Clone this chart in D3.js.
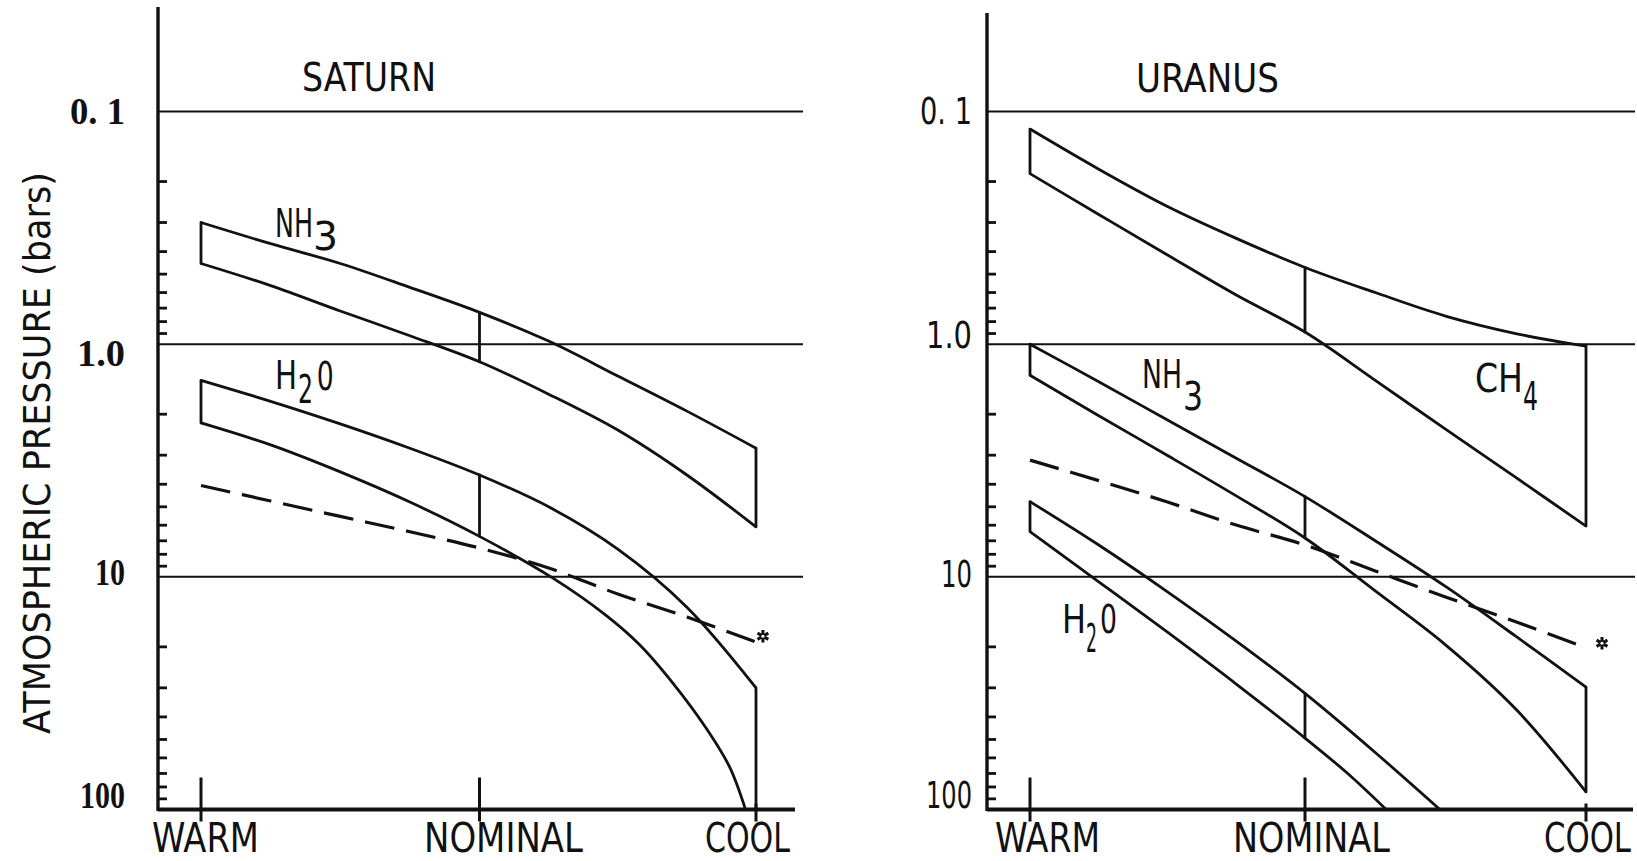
<!DOCTYPE html>
<html>
<head>
<meta charset="utf-8">
<script src="https://cdn.jsdelivr.net/npm/d3@7"></script>
<style>
  html, body { margin: 0; padding: 0; background: #fff; }
  svg { display: block; }
</style>
</head>
<body>
<svg id="chart" width="1637" height="861"></svg>
<script>
// Cloud-base pressure levels (bars) for three model atmospheres.
// Model axis: 0 = warm, 1 = nominal, 2 = cool.
const modelCategories = ["WARM", "NOMINAL", "COOL"];
const pressureTicks = [0.1, 1, 10, 100];
const saturnTickLabels = ["0. 1", "1.0", "10", "100"];
const uranusTickLabels = ["0. 1", "1.0", "10", "100"];

// Saturn
const saturnT = [0, 0.25, 0.5, 0.75, 1, 1.25, 1.5, 1.75, 2];
const saturnNH3Upper = [0.30, 0.37, 0.45, 0.57, 0.73, 0.97, 1.37, 1.94, 2.8];
const saturnNH3Lower = [0.45, 0.56, 0.72, 0.92, 1.19, 1.64, 2.34, 3.65, 6.1];
const saturnH2OUpper = [1.43, 1.76, 2.2, 2.8, 3.65, 5.0, 7.6, 13.5, 30];
const saturnH2OLowerT = [0, 0.25, 0.5, 0.75, 1, 1.267, 1.46, 1.58, 1.70, 1.82, 1.904, 1.962];
const saturnH2OLower = [2.18, 2.71, 3.54, 4.77, 6.7, 10.15, 14.71, 19.63, 28.69, 44.77, 65.46, 100];
const saturnAdiabat = [4.05, 4.72, 5.5, 6.4, 7.52, 9.16, 11.85, 14.88, 19.06];
const saturnMarker = [2.025, 18];

// Uranus
const uranusT = [0, 0.25, 0.5, 0.75, 1, 1.25, 1.5, 1.75, 2];
const uranusCH4Upper = [0.119, 0.177, 0.256, 0.351, 0.468, 0.600, 0.757, 0.90, 1.02];
const uranusCH4Lower = [0.185, 0.277, 0.414, 0.615, 0.887, 1.43, 2.32, 3.74, 6.05];
const uranusNH3Upper = [1.0, 1.45, 2.12, 3.09, 4.52, 7.0, 11.0, 18.0, 29.8];
const uranusNH3Lower = [1.36, 2.03, 3.01, 4.49, 6.81, 11.5, 19.6, 37.0, 84];
const uranusH2OUpperT = [0, 0.25, 0.5, 0.75, 1, 1.25, 1.48];
const uranusH2OUpper = [4.75, 7.3, 11.6, 18.9, 31.7, 56.9, 100];
const uranusH2OLowerT = [0, 0.25, 0.5, 0.75, 1, 1.15, 1.289];
const uranusH2OLower = [6.39, 10.5, 17.3, 28.9, 49.3, 69.7, 100];
const uranusAdiabat = [3.15, 3.86, 4.77, 5.99, 7.3, 9.44, 12.2, 15.6, 20.2];
const uranusMarker = [2.057, 19.3];

const zip = (ts, ps) => ts.map((t, i) => ({ t, p: ps[i] }));

const letterFont = "'Liberation Sans Narrow', 'DejaVu Sans Condensed', 'Liberation Sans', sans-serif";

const panels = [
  {
    title: "SATURN",
    titleAt: [0.3627, 0.0816, 134],
    tickLabels: saturnTickLabels,
    tickFont: "'Liberation Serif', 'DejaVu Serif', serif", tickWeight: "bold",
    tickLabelRight: 125, tickLabelWidths: [55, 48, 30, 45], tickLabelDy: [12, 22, 8, -2],
    axisX: 158, axisTop: 7, gridRight: 803, baseRight: 795,
    xRange: [201, 479.5, 756],
    catLabelDx: [-49, -55.5, -51], catLabelW: [107, 159, 85],
    bands: [
      { upper: zip(saturnT, saturnNH3Upper), lower: zip(saturnT, saturnNH3Lower) },
      { upper: zip(saturnT, saturnH2OUpper), lower: zip(saturnH2OLowerT, saturnH2OLower) }
    ],
    adiabat: zip(saturnT, saturnAdiabat),
    marker: saturnMarker,
    labels: [
      [["NH", 0.2657, 0.3463, 38], ["3", 0.4022, 0.3938, 25]],
      [["H", 0.2657, 1.558, 22], ["2", 0.3483, 1.790, 15], ["0", 0.4154, 1.574, 17]]
    ]
  },
  {
    title: "URANUS",
    titleAt: [0.3855, 0.0824, 143],
    tickLabels: uranusTickLabels,
    tickFont: letterFont, tickWeight: "normal",
    tickLabelRight: 972, tickLabelWidths: [52, 46, 31, 46], tickLabelDy: [12, 4, 10, -2],
    axisX: 987, axisTop: 13, gridRight: 1635, baseRight: 1633,
    xRange: [1030, 1305, 1586],
    catLabelDx: [-35, -72, -42], catLabelW: [105, 157, 87],
    bands: [
      { upper: zip(uranusT, uranusCH4Upper), lower: zip(uranusT, uranusCH4Lower) },
      { upper: zip(uranusT, uranusNH3Upper), lower: zip(uranusT, uranusNH3Lower) },
      { upper: zip(uranusH2OUpperT, uranusH2OUpper), lower: zip(uranusH2OLowerT, uranusH2OLower) }
    ],
    adiabat: zip(uranusT, uranusAdiabat),
    marker: uranusMarker,
    labels: [
      [["NH", 0.4073, 1.548, 40], ["3", 0.5564, 1.919, 20]],
      [["CH", 1.605, 1.606, 48], ["4", 1.776, 1.919, 15]],
      [["H", 0.1164, 17.43, 24], ["2", 0.2036, 21.04, 11], ["0", 0.2545, 17.43, 17]]
    ]
  }
];

const svg = d3.select("#chart");
const ink = "#111";

const y = d3.scaleLog().domain([0.1, 100]).range([111.5, 809.5]);

// Draw a string starting at x on baseline yBase, squeezed horizontally to the given width.
function fitText(g, str, x, yBase, width, size, family, weight) {
  const t = g.append("text")
    .attr("font-family", family).attr("font-size", size)
    .attr("font-weight", weight || "normal")
    .attr("fill", ink)
    .text(str);
  const natural = t.node().getComputedTextLength() || width;
  t.attr("transform", `translate(${x},${yBase}) scale(${width / natural},1)`);
  return t;
}

panels.forEach(P => {
  const g = svg.append("g");
  const x = d3.scaleLinear().domain([0, 1, 2]).range(P.xRange);
  const pMax = y.domain()[1];

  // reference lines at each labelled pressure
  pressureTicks.slice(0, 3).forEach(v => {
    g.append("line")
      .attr("x1", P.axisX).attr("x2", P.gridRight)
      .attr("y1", y(v)).attr("y2", y(v))
      .attr("stroke", ink).attr("stroke-width", 2);
  });

  // minor log ticks, drawn inward
  const minor = [];
  [0.1, 1, 10].forEach(d => { for (let k = 2; k <= 9; k++) minor.push(k * d); });
  g.selectAll(".minor").data(minor).enter().append("line")
    .attr("x1", P.axisX).attr("x2", P.axisX + 9)
    .attr("y1", d => y(d)).attr("y2", d => y(d))
    .attr("stroke", ink).attr("stroke-width", 2.8);

  // vertical axis and baseline
  g.append("line")
    .attr("x1", P.axisX).attr("x2", P.axisX)
    .attr("y1", P.axisTop).attr("y2", y(pMax) + 1.5)
    .attr("stroke", ink).attr("stroke-width", 3.4);
  g.append("line")
    .attr("x1", P.axisX).attr("x2", P.baseRight)
    .attr("y1", y(pMax)).attr("y2", y(pMax))
    .attr("stroke", ink).attr("stroke-width", 3.8);

  // category ticks on the model axis
  modelCategories.forEach((c, i) => {
    g.append("line")
      .attr("x1", x(i)).attr("x2", x(i))
      .attr("y1", y(pMax) - (i === 2 ? 6 : 32)).attr("y2", y(pMax) + 12)
      .attr("stroke", ink).attr("stroke-width", 3);
    fitText(g, c, x(i) + P.catLabelDx[i], 852, P.catLabelW[i], 40, letterFont);
  });

  // pressure tick labels
  pressureTicks.forEach((v, i) => {
    const w = P.tickLabelWidths[i];
    fitText(g, P.tickLabels[i], P.tickLabelRight - w, y(v) + P.tickLabelDy[i], w, 38, P.tickFont, P.tickWeight);
  });

  // title
  fitText(g, P.title, x(P.titleAt[0]), y(P.titleAt[1]), P.titleAt[2], 39, letterFont);

  const line = d3.line().x(d => x(d.t)).y(d => y(d.p)).curve(d3.curveCatmullRom.alpha(0.5));

  // condensation bands: upper and lower boundaries plus the vertical model edges
  P.bands.forEach(b => {
    [b.upper, b.lower].forEach(series => {
      g.append("path").attr("d", line(series))
        .attr("fill", "none").attr("stroke", ink).attr("stroke-width", 2.8)
        .attr("stroke-linejoin", "round");
    });
    [0, 1, 2].forEach(t => {
      const u = b.upper.find(d => d.t === t);
      if (!u) return;
      const l = b.lower.find(d => d.t === t);
      g.append("line")
        .attr("x1", x(t)).attr("x2", x(t))
        .attr("y1", y(u.p)).attr("y2", y(l ? l.p : pMax))
        .attr("stroke", ink).attr("stroke-width", 2.8)
        .attr("stroke-linecap", "round");
    });
  });

  // adiabat (dashed) and its end marker
  g.append("path").attr("d", line(P.adiabat))
    .attr("fill", "none").attr("stroke", ink).attr("stroke-width", 3.2)
    .attr("stroke-dasharray", "30,12");
  const mx = x(P.marker[0]), my = y(P.marker[1]);
  g.append("path")
    .attr("d", d3.symbol().type(d3.symbolAsterisk).size(110)())
    .attr("transform", `translate(${mx},${my})`)
    .attr("fill", "none").attr("stroke", ink).attr("stroke-width", 3);
  g.append("circle")
    .attr("cx", mx).attr("cy", my).attr("r", 1.6)
    .attr("fill", "#fff");

  // species labels (formula subscripts drawn lowered at full size)
  P.labels.forEach(parts => {
    parts.forEach(([s, t, p, w]) => fitText(g, s, x(t), y(p), w, 39, letterFont));
  });
});

// shared vertical axis title
const yTitle = svg.append("text")
  .attr("font-family", "'DejaVu Sans', 'Liberation Sans', sans-serif")
  .attr("font-size", 38)
  .attr("fill", ink)
  .text("ATMOSPHERIC PRESSURE (bars)");
const yTitleLen = yTitle.node().getComputedTextLength();
yTitle.attr("transform", `translate(50,734) rotate(-90) scale(${562 / yTitleLen},1)`);
</script>
</body>
</html>
